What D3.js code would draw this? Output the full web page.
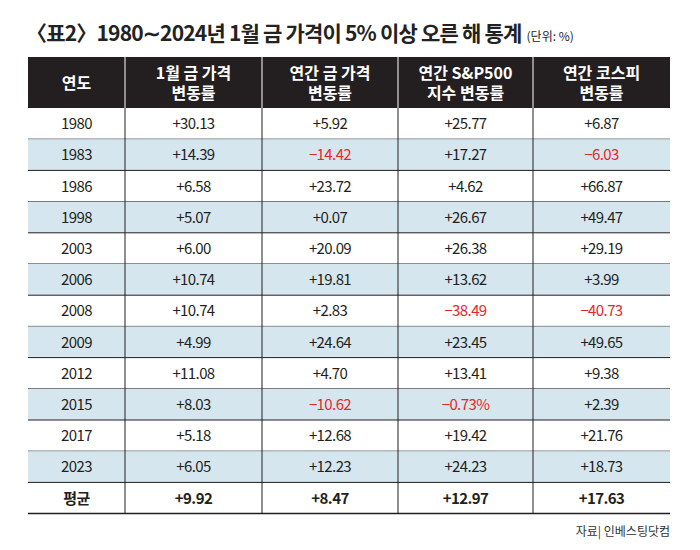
<!DOCTYPE html>
<html><head><meta charset="utf-8">
<script src="https://cdn.jsdelivr.net/npm/d3@7"></script>
<style>body{margin:0;background:#fff;font-family:"Noto Sans CJK KR",sans-serif;}</style>
</head><body>
<svg id="c" width="700" height="550"></svg>
<script>
const headers = [["연도"], ["1월 금 가격", "변동률"], ["연간 금 가격", "변동률"], ["연간 S&P500", "지수 변동률"], ["연간 코스피", "변동률"]];
const years = ["1980","1983","1986","1998","2003","2006","2008","2009","2012","2015","2017","2023","평균"];
const janGold = ["+30.13","+14.39","+6.58","+5.07","+6.00","+10.74","+10.74","+4.99","+11.08","+8.03","+5.18","+6.05","+9.92"];
const yearGold = ["+5.92","−14.42","+23.72","+0.07","+20.09","+19.81","+2.83","+24.64","+4.70","−10.62","+12.68","+12.23","+8.47"];
const sp500 = ["+25.77","+17.27","+4.62","+26.67","+26.38","+13.62","−38.49","+23.45","+13.41","−0.73%","+19.42","+24.23","+12.97"];
const kospi = ["+6.87","−6.03","+66.87","+49.47","+29.19","+3.99","−40.73","+49.65","+9.38","+2.39","+21.76","+18.73","+17.63"];
const shaded = ["1983","1998","2006","2009","2015","2023"];

const svg = d3.select("#c");
const colEdges = [28, 125, 262, 398, 533, 670];
const x = i => (colEdges[i] + colEdges[i+1]) / 2;
const headTop = 57, headBot = 108, rowH = 31.2;
const y = d3.scaleBand().domain(years).range([headBot, headBot + rowH * years.length]);

svg.append("text").attr("x", 26).attr("y", 41).attr("font-size", 21).attr("font-weight", 700)
  .attr("letter-spacing", "-0.8").attr("fill", "#222").text("〈표2〉1980∼2024년 1월 금 가격이 5% 이상 오른 해 통계")
  .append("tspan").attr("font-size", 12).attr("font-weight", 400).attr("dx", 5).attr("letter-spacing", "0").text("(단위: %)");

svg.append("rect").attr("x", 28).attr("y", headTop).attr("width", 642).attr("height", headBot - headTop).attr("fill", "#231f20");
headers.forEach((h, i) => {
  const t = svg.append("text").attr("text-anchor", "middle").attr("fill", "#fff").attr("font-size", 16).attr("font-weight", 700);
  h.forEach((line, j) => t.append("tspan").attr("x", x(i))
    .attr("y", (headTop + headBot) / 2 + 6 + (j - (h.length - 1) / 2) * 20).text(line));
});

const cols = [years, janGold, yearGold, sp500, kospi];
years.forEach((yr, r) => {
  if (shaded.includes(yr)) svg.append("rect").attr("x", 28).attr("y", y(yr)).attr("width", 642).attr("height", y.bandwidth()).attr("fill", "#d6e6ef");
  const last = yr === "평균";
  cols.forEach((col, i) => {
    const v = col[r];
    svg.append("text").attr("x", x(i)).attr("y", y(yr) + y.bandwidth() / 2 + 5.5)
      .attr("text-anchor", "middle").attr("font-size", 15).attr("font-weight", last ? 700 : 400)
      .attr("letter-spacing", "-0.6")
      .attr("fill", v.startsWith("−") ? "#e8262a" : "#231f20").text(v);
  });
  svg.append("line").attr("x1", 28).attr("x2", 670).attr("y1", y(yr) + y.bandwidth()).attr("y2", y(yr) + y.bandwidth())
    .attr("stroke", "#231f20").attr("stroke-width", last ? 1.5 : 1);
});
colEdges.slice(1, -1).forEach(cx => {
  svg.append("line").attr("x1", cx).attr("x2", cx).attr("y1", headTop).attr("y2", headBot).attr("stroke", "#fff").attr("stroke-width", 1);
  svg.append("line").attr("x1", cx).attr("x2", cx).attr("y1", headBot).attr("y2", y.range()[1]).attr("stroke", "#231f20").attr("stroke-width", 1);
});
svg.append("text").attr("x", 670).attr("y", 536).attr("text-anchor", "end").attr("font-size", 12).attr("fill", "#333").text("자료| 인베스팅닷컴");
</script>
</body></html>
